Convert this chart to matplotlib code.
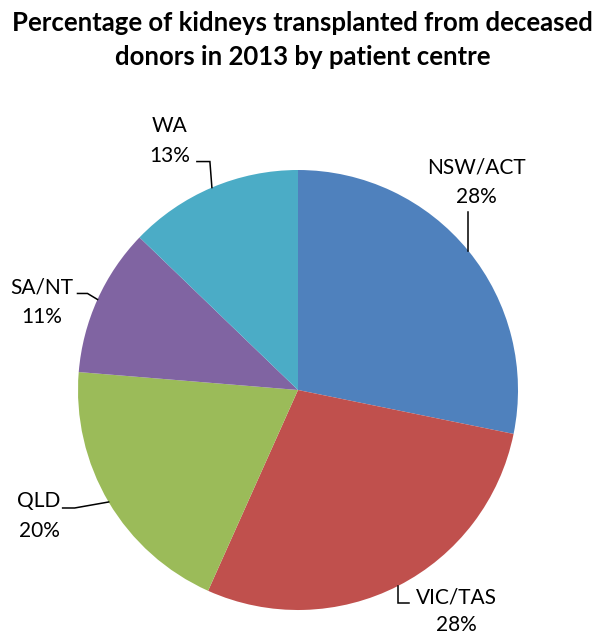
import numpy as np
import matplotlib
matplotlib.use("Agg")
import matplotlib.pyplot as plt

categories = ["NSW/ACT", "VIC/TAS", "QLD", "SA/NT", "WA"]
values = [28.2, 28.5, 19.6, 10.9, 12.8]
pct_labels = ["28%", "28%", "20%", "11%", "13%"]
colors = ["#4F81BD", "#C0504D", "#9BBB59", "#8064A2", "#4BACC6"]

W, H = 605, 637
fig = plt.figure(figsize=(W / 100, H / 100), dpi=100)
ax = fig.add_axes([0, 0, 1, 1])

cx, cy, R = 298, H - 390, 220
wedges, _ = ax.pie(values, colors=colors, startangle=90, counterclock=False,
                   center=(cx, cy), radius=R, frame=True,
                   wedgeprops=dict(linewidth=0))
ax.set_xlim(0, W)
ax.set_ylim(0, H)
ax.set_aspect("equal")
ax.axis("off")

font = "Lato"
fs = 15

# leader-line bends relative to arc point (pixels, y down) and label centres (pixels, y down)
layout = {
    "NSW/ACT": dict(path=[(0, -39)], text=(476, 182)),
    "VIC/TAS": dict(path=[(0, 17), (11, 17)], text=(456, 611)),
    "QLD": dict(path=[(-34, 6), (-46, 6)], text=(39, 516)),
    "SA/NT": dict(path=[(-10, -6), (-20, -6)], text=(42, 302)),
    "WA": dict(path=[(-2, -26), (-15, -26)], text=(170, 141)),
}

for w, cat, p in zip(wedges, categories, pct_labels):
    th = np.deg2rad((w.theta1 + w.theta2) / 2)
    px = cx + R * np.cos(th)
    py = cy + R * np.sin(th)
    xs = [px] + [px + dx for dx, dy in layout[cat]["path"]]
    ys = [py] + [py - dy for dx, dy in layout[cat]["path"]]
    ax.plot(xs, ys, color="black", lw=1.1, solid_joinstyle="miter")
    tx, ty = layout[cat]["text"]
    lsp = 1.5 if cat == "VIC/TAS" else 1.6
    ax.text(tx, H - ty, f"{cat}\n{p}", ha="center", va="center",
            fontsize=fs, family=font, linespacing=lsp, color="black")

fig.text(0.5, 1 - 40 / H, "Percentage of kidneys transplanted from deceased\ndonors in 2013 by patient centre",
         ha="center", va="center", fontsize=18.5, fontweight="bold", family=font,
         linespacing=1.5)

fig.savefig("out.png", dpi=100)
